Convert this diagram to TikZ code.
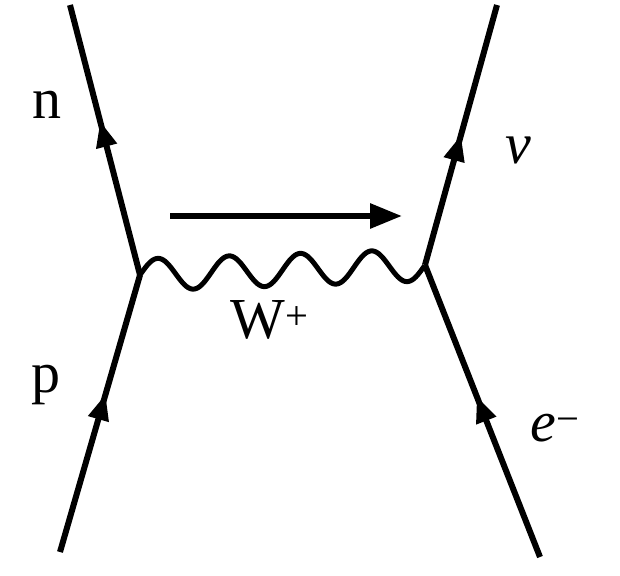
\documentclass[tikz,border=0pt]{standalone}
\usepackage{fontspec}
\setmainfont{Liberation Serif}
\usetikzlibrary{decorations.markings,arrows.meta}
\begin{document}
\begin{tikzpicture}[x=1pt,y=-1pt,
  fermion/.style={line width=6pt,postaction={decorate},decoration={markings,mark=at position #1 with {\arrow{Triangle[length=26pt,width=20pt]}}}},
  boson/.style={line width=5pt,line join=round},
  lbl/.style={font=\fontsize{58}{64}\selectfont}]
\useasboundingbox (0,0) rectangle (620,575);
\coordinate (v1) at (140,275);
\coordinate (v2) at (425,265);
\coordinate (a) at (60,552);
\coordinate (b) at (70,5);
\coordinate (c) at (540,557);
\coordinate (d) at (497,5);
\coordinate (m1) at (170,216);
\coordinate (m2) at (402,216);
\draw[fermion=0.57] (a) -- (v1);
\draw[fermion=0.57] (v1) -- (b);
\draw[fermion=0.55] (c) -- (v2);
\draw[fermion=0.5] (v2) -- (d);
\draw[boson] plot[domain=0:1,samples=161,smooth] ({140+285*\x},{275-10*\x-16*sin(4*360*\x)});
\draw[line width=6pt,-{Triangle[length=32pt,width=24pt]}] (m1) -- (m2);
\node[lbl] (n) at (47,105) {n};
\node[lbl] (p) at (46,385) {p};
\node[lbl] (nu) at (518,150) {\itshape v};
\node[lbl] (e) at (555,428) {\itshape e\textsuperscript{\upshape −}};
\node[lbl] (w) at (270,320) {W\textsuperscript{+}};
\end{tikzpicture}
\end{document}
